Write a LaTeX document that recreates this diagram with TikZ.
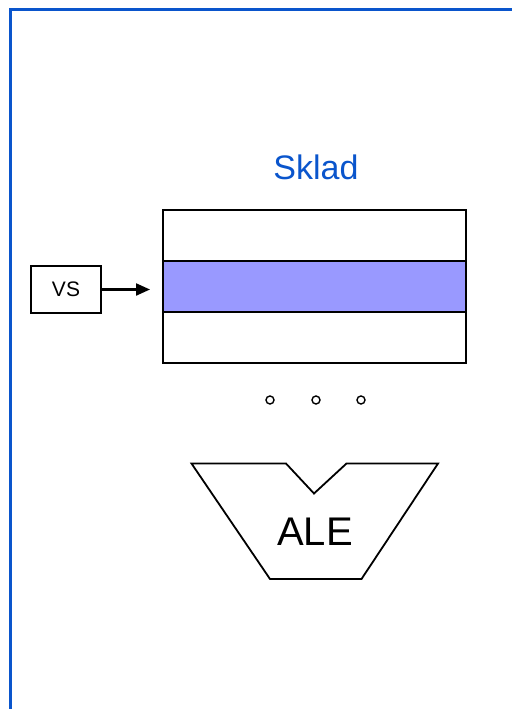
\documentclass[tikz,border=0pt]{standalone}
\usepackage{fontspec}
\setmainfont{Liberation Sans}
\usetikzlibrary{arrows.meta}
\definecolor{frameblue}{HTML}{0A55CC}
\definecolor{slotfill}{HTML}{9999FF}
\begin{document}
\begin{tikzpicture}[x=1pt,y=-1pt,
  cell/.style={draw=black,line width=2pt,minimum width=303pt,minimum height=51pt,inner sep=0pt,anchor=north west},
  dot/.style={circle,draw=black,line width=1.4pt,minimum size=8pt,inner sep=0pt},
  conn/.style={line width=2.2pt,-{Triangle[length=14pt,width=12pt]}}]
\useasboundingbox (0,0) rectangle (512,709);
\draw[frameblue,line width=2.2pt] (10.5,709) -- (10.5,9.5) -- (512,9.5);
\node[text=frameblue,font=\fontsize{34}{40}\selectfont,anchor=base] (title) at (316,179) {Sklad};
\node[cell] (c1) at (162,208.5) {};
\node[cell,fill=slotfill] (c2) at (162,260) {};
\node[cell] (c3) at (162,311) {};
\node[draw=black,line width=1.8pt,minimum width=70pt,minimum height=47pt,inner sep=0pt,font=\fontsize{21}{24}\selectfont] (vs) at (66,289.5) {VS};
\coordinate (tip) at (150,289.5);
\draw[conn] (vs.east) -- (tip);
\node[dot] (d1) at (270,400) {};
\node[dot] (d2) at (316,400) {};
\node[dot] (d3) at (361,400) {};
\draw[line width=1.8pt,line join=miter] (191.5,463.5) -- (286,463.5) -- (314,493.5) -- (346.5,463.5) -- (438,463.5) -- (361.5,579) -- (270,579) -- cycle;
\node[font=\fontsize{40}{46}\selectfont] (ale) at (315,532) {ALE};
\end{tikzpicture}
\end{document}
